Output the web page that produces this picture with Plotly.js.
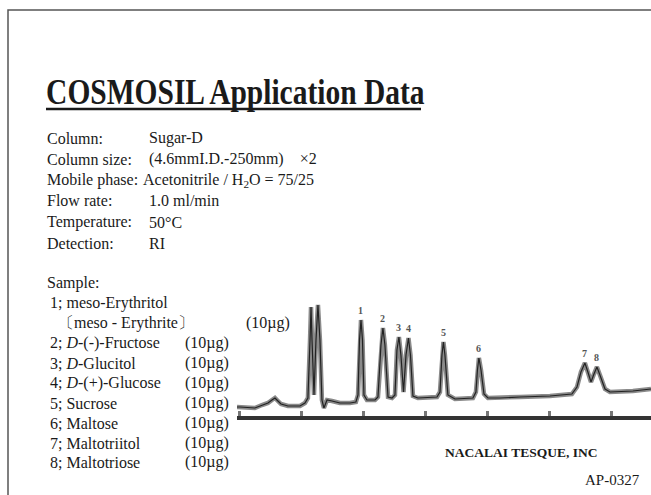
<!DOCTYPE html>
<html>
<head>
<meta charset="utf-8">
<script src="https://cdn.plot.ly/plotly-3.0.1.min.js"></script>
<style>html,body{margin:0;padding:0;background:#fff;}#chart{width:651px;height:495px;}</style>
</head>
<body>
<div id="chart"></div>
<script>
// Chromatogram trace: time (min) and detector signal (a.u.)
var timeMin = [-0.24, 0.0, 1.2, 1.77, 2.26, 2.58, 2.82, 3.06, 3.31, 3.87, 4.84, 5.24, 5.48, 5.65, 5.73, 5.81, 5.97, 6.13, 6.29, 6.45, 6.61, 6.77, 7.02, 7.42, 8.06, 8.87, 9.35, 9.52, 9.64, 9.76, 9.88, 10.0, 10.24, 10.89, 11.13, 11.37, 11.53, 11.69, 11.94, 12.26, 12.5, 12.66, 12.82, 12.98, 13.19, 13.39, 13.59, 13.75, 13.95, 14.35, 15.89, 16.13, 16.29, 16.41, 16.53, 16.77, 17.34, 18.79, 19.03, 19.15, 19.27, 19.44, 19.68, 20.0, 20.97, 22.58, 25.0, 26.77, 27.18, 27.5, 27.82, 28.06, 28.31, 28.55, 28.79, 29.03, 29.44, 29.84, 31.69, 33.15];
var signal  = [0.9, 0.9, 0.8, 1.1, 1.3, 1.6, 1.8, 1.5, 1.2, 1.0, 1.0, 1.3, 1.8, 7.6, 10.9, 7.6, 2.1, 7.6, 11.1, 7.6, 1.6, 0.8, 1.6, 1.5, 1.3, 1.3, 1.4, 2.1, 7.6, 9.6, 7.6, 2.1, 1.6, 1.6, 1.9, 7.1, 8.8, 7.1, 1.9, 1.8, 2.1, 6.6, 7.9, 6.1, 2.4, 6.1, 7.8, 6.1, 2.0, 1.8, 1.9, 2.4, 6.1, 7.4, 6.1, 2.1, 1.7, 1.8, 2.4, 4.6, 5.8, 4.6, 2.2, 1.8, 1.8, 1.9, 2.0, 2.2, 2.9, 4.4, 5.3, 4.4, 3.4, 4.2, 4.9, 4.1, 2.7, 2.4, 2.5, 2.7];
var peakLabels = ["1", "2", "3", "4", "5", "6", "7", "8"];
var peakTimes  = [9.76, 11.53, 12.82, 13.59, 16.41, 19.27, 27.82, 28.79];

var conditionLabels = ["Column:", "Column size:", "Mobile phase:", "Flow rate:", "Temperature:", "Detection:"];
var conditionValues = ["Sugar-D", "(4.6mmI.D.-250mm)\u2003\u00d72", "Acetonitrile / H<sub>2</sub>O = 75/25", "1.0 ml/min", "50\u00b0C", "RI"];
var sampleNames = ["2; <i>D</i>-(-)-Fructose", "3; <i>D</i>-Glucitol", "4; <i>D</i>-(+)-Glucose", "5; Sucrose", "6; Maltose", "7; Maltotriitol", "8; Maltotriose"];
var sampleAmounts = ["(10\u00b5g)", "(10\u00b5g)", "(10\u00b5g)", "(10\u00b5g)", "(10\u00b5g)", "(10\u00b5g)", "(10\u00b5g)"];

var W = 651, H = 495;
function px(x){ return x / W; }
function py(y){ return 1 - y / H; }
var serif = "Liberation Serif, Times New Roman, serif";
var txtColor = "#1a1a1a";
var fs = 16;

var ann = [];
function addText(x, y, text, opts){
  opts = opts || {};
  ann.push({xref:"paper", yref:"paper", x:px(x), y:py(y), text:text, showarrow:false, borderpad:0,
    xanchor:opts.xanchor || "left", yanchor:"middle",
    font:{family:serif, size:opts.size || fs, color:opts.color || txtColor, weight:opts.weight || "normal"}});
}
addText(45, 92, "COSMOSIL Application Data", {size:29.5, weight:"bold"});
var condY = [138, 159, 180, 201, 222, 243];
for (var i = 0; i < conditionLabels.length; i++){
  addText(46, condY[i], conditionLabels[i]);
  addText(i === 2 ? 142 : 148, condY[i], conditionValues[i]);
}
addText(46, 283, "Sample:");
addText(49, 303, "1; meso-Erythritol");
addText(57, 323, "\u3014meso - Erythrite\u3015");
addText(245, 323, "(10\u00b5g)");
var sampY = [343, 363, 383, 403, 423, 443, 462];
for (var j = 0; j < sampleNames.length; j++){
  addText(49, sampY[j], sampleNames[j]);
  addText(184, sampY[j], sampleAmounts[j]);
}
addText(521, 452, "NACALAI TESQUE, INC", {size:13.5, weight:"bold", xanchor:"center"});
addText(641, 480, "AP-0327", {size:15, xanchor:"right"});

// peak number labels above each peak top
for (var k = 0; k < peakLabels.length; k++){
  var best = 0, bestD = 1e9;
  for (var m = 0; m < timeMin.length; m++){
    var d = Math.abs(timeMin[m] - peakTimes[k]);
    if (d < bestD){ bestD = d; best = m; }
  }
  ann.push({xref:"x", yref:"y", x:peakTimes[k], y:signal[best], text:peakLabels[k], showarrow:false,
    yanchor:"bottom", yshift:2, font:{family:serif, size:10, color:"#555", weight:"bold"}});
}

var traces = [
  {x:timeMin, y:signal, type:"scatter", mode:"lines", line:{color:"#8a8a8a", width:4.5}, hoverinfo:"skip"},
  {x:timeMin, y:signal, type:"scatter", mode:"lines", line:{color:"#222", width:1.2}, hoverinfo:"skip"}
];

var layout = {
  width:W, height:H, margin:{l:0, r:0, t:0, b:0}, paper_bgcolor:"#fff", plot_bgcolor:"rgba(0,0,0,0)",
  showlegend:false,
  xaxis:{domain:[237/W, 1], range:[-0.24, 33.15], showgrid:false, zeroline:false, showline:true,
    linecolor:"#333", linewidth:4, ticks:"inside", ticklen:5, tickwidth:3, tickcolor:"#777",
    tick0:0, dtick:5, showticklabels:false},
  yaxis:{domain:[py(416), py(296)], range:[0, 12], showgrid:false, zeroline:false, showline:false,
    showticklabels:false, ticks:""},
  annotations:ann,
  shapes:[
    {type:"rect", xref:"paper", yref:"paper", x0:px(8), y0:py(10), x1:1.05, y1:-0.05, line:{color:"#555", width:1.5}},
    {type:"line", xref:"paper", yref:"paper", x0:px(46), x1:px(421), y0:py(109), y1:py(109), line:{color:"#1a1a1a", width:2.5}}
  ]
};
Plotly.newPlot("chart", traces, layout, {staticPlot:true, displayModeBar:false}).then(function(){
  // the scanned title is vertically stretched: stretch the title text a little
  var t = document.querySelector('.annotation[data-index="0"] text.annotation-text');
  if (t){
    var bb = t.getBBox();
    var cy = bb.y + bb.height / 2;
    t.setAttribute("transform", "translate(0," + cy + ") scale(1,1.18) translate(0," + (-cy) + ")");
  }
});
</script>
</body>
</html>
